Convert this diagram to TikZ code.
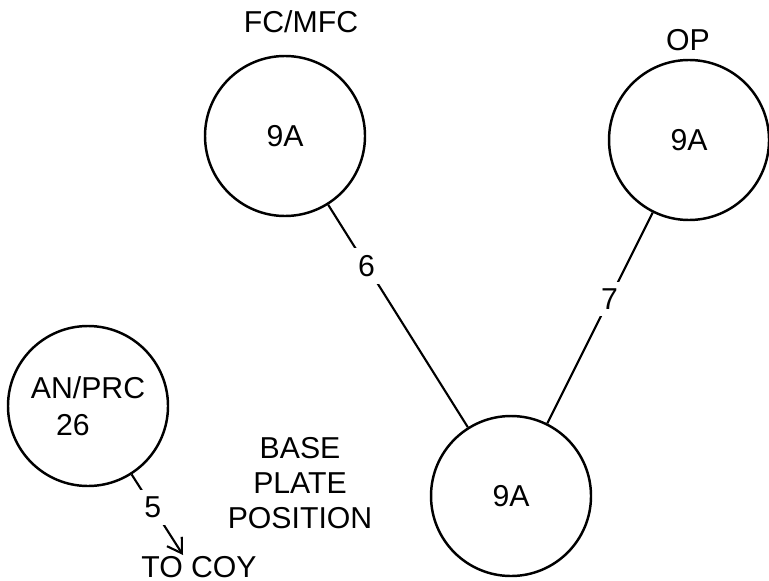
\documentclass[tikz,border=0pt]{standalone}
\usepackage{fontspec}
\setmainfont{Liberation Sans}
\usepackage{tikz}
\usetikzlibrary{arrows.meta}

\begin{document}
\begin{tikzpicture}[
  every node/.style={font=\fontsize{8.6}{10.4}\selectfont},
  stn/.style={draw,circle,line width=0.7pt,minimum size=1.6cm,inner sep=0pt,align=center},
  num/.style={fill=white,inner sep=2pt}]
\useasboundingbox (0,0) rectangle (7.69,5.80);
\node[stn] (fc) at (2.85,4.44) {9A};
\node[stn] (op) at (6.89,4.40) {9A};
\node[stn] (bp) at (5.11,0.84) {9A};
\node[stn] (an) at (0.88,1.74) {AN/PRC\\26\hspace*{0.3cm}};
\node (fclbl) at (3.01,5.58) {FC/MFC};
\node (oplbl) at (6.88,5.40) {OP};
\node[align=center,font=\fontsize{8.6}{9.9}\selectfont] (bpp) at (3.0,0.97) {BASE\\PLATE\\POSITION};
\node (coy) at (1.99,0.13) {TO COY};
\coordinate (coyend) at (1.83,0.25);
\draw[line width=0.6pt] (fc) -- node[num,pos=0.275] (six) {6} (bp);
\draw[line width=0.6pt] (op) -- node[num,pos=0.41] (seven) {7} (bp);
\draw[-{Straight Barb[length=4pt,width=5pt]},line width=0.6pt] (an) -- node[num,pos=0.41] (five) {5} (coyend);
\end{tikzpicture}
\end{document}
